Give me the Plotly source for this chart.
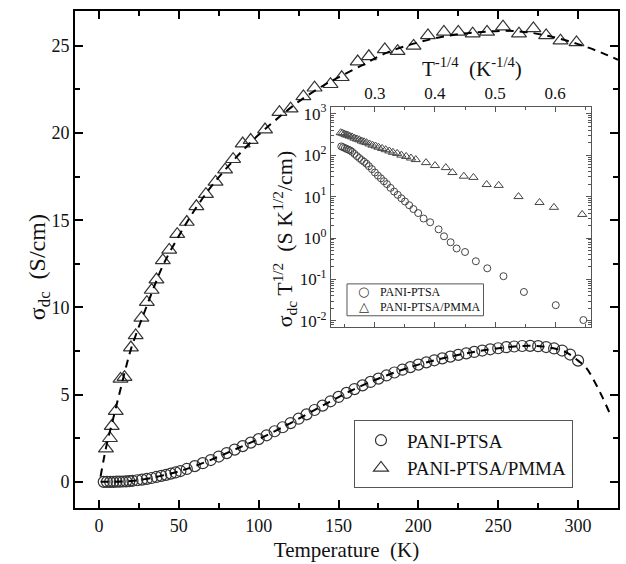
import plotly.graph_objects as go

# ---------------- main panel data ----------------
T_ptsa = [3, 5, 7, 9, 11, 13, 15, 17, 19, 21, 24, 27, 30, 33, 36, 39, 42, 45, 48, 51,
          55, 60, 65, 70, 75, 80, 85, 90, 95, 100, 105, 110, 115, 120, 125, 130, 135,
          140, 145, 150, 155, 160, 165, 170, 175, 180, 185, 190, 195, 200, 205, 210,
          215, 220, 225, 230, 235, 240, 245, 250, 255, 260, 265, 270, 275, 280, 285,
          290, 295, 300]
S_ptsa = [0.0, 0.0, 0.0, 0.0, 0.01, 0.01, 0.02, 0.03, 0.04, 0.06, 0.09, 0.13, 0.17, 0.22,
          0.28, 0.34, 0.40, 0.47, 0.54, 0.62, 0.74, 0.90, 1.07, 1.25, 1.45, 1.65, 1.85,
          2.05, 2.25, 2.45, 2.67, 2.90, 3.13, 3.37, 3.62, 3.87, 4.12, 4.37, 4.62, 4.87,
          5.10, 5.32, 5.53, 5.73, 5.92, 6.10, 6.27, 6.43, 6.58, 6.72, 6.85, 6.97, 7.08,
          7.18, 7.28, 7.37, 7.45, 7.53, 7.60, 7.66, 7.72, 7.76, 7.79, 7.80, 7.78, 7.73,
          7.65, 7.53, 7.30, 6.95]

T_pmma = [4.4, 6.9, 8, 10.5, 13.5, 16, 20, 23, 26.6, 30, 33, 36, 40, 44, 49, 55, 61, 67,
          73, 79, 84, 90, 95, 104, 113, 120, 128, 135, 145, 152, 162, 169, 179, 187, 197,
          206, 216, 225, 234, 243, 253, 263, 272, 280, 289, 299]
S_pmma = [1.9, 2.5, 3.2, 4.05, 5.9, 6.0, 7.7, 8.4, 9.4, 10.3, 11.0, 11.6, 12.7, 13.3, 14.2,
          14.9, 15.8, 16.5, 17.2, 17.9, 18.5, 19.4, 19.6, 20.2, 21.2, 21.4, 22.1, 22.6,
          22.8, 23.2, 24.1, 24.4, 24.8, 24.7, 25.0, 25.6, 25.8, 25.8, 25.7, 25.8, 26.1,
          25.7, 26.0, 25.6, 25.3, 25.2]

# dashed fit curves (read along the drawn dashes)
T_fit_ptsa = [1, 10, 20, 30, 40, 50, 60, 75, 90, 100, 120, 140, 160, 180, 200, 220, 240,
              260, 270, 280, 290, 295, 300, 305, 310, 315, 320]
S_fit_ptsa = [0.0, 0.01, 0.05, 0.17, 0.37, 0.60, 0.90, 1.45, 2.05, 2.45, 3.37, 4.37, 5.32,
              6.10, 6.72, 7.18, 7.53, 7.76, 7.80, 7.73, 7.53, 7.30, 6.95, 6.55, 5.80, 4.90,
              3.90]
T_fit_pmma = [1, 3, 5, 8, 11, 14, 17, 20, 25, 30, 35, 40, 50, 60, 70, 80, 90, 100, 110,
              125, 140, 150, 165, 180, 200, 220, 240, 260, 280, 300, 315, 325]
S_fit_pmma = [0.3, 1.3, 2.2, 3.3, 4.4, 5.5, 6.6, 7.6, 8.9, 10.1, 11.3, 12.4, 14.1, 15.6,
              16.9, 18.0, 19.0, 19.9, 20.7, 21.8, 22.7, 23.2, 23.9, 24.6, 25.2, 25.6, 25.8,
              25.85, 25.6, 25.1, 24.6, 24.2]

# ---------------- inset data ----------------
t_ptsa = [0.244, 0.247, 0.250, 0.253, 0.256, 0.259, 0.262, 0.266, 0.270, 0.274, 0.278,
          0.282, 0.286, 0.290, 0.295, 0.300, 0.305, 0.310, 0.315, 0.320, 0.326, 0.332,
          0.338, 0.344, 0.350, 0.357, 0.364, 0.372, 0.381, 0.392, 0.406, 0.415, 0.426,
          0.436, 0.450, 0.468, 0.487, 0.514, 0.548, 0.601, 0.647]
y_ptsa = [162, 155, 148, 141, 135, 129, 120, 107, 95, 85, 76, 69, 62, 54, 46, 38, 32, 27.5,
          23.4, 20, 16.2, 13.2, 11, 9.1, 7.6, 6.2, 5.0, 4.0, 2.95, 2.4, 1.62, 1.10, 0.79,
          0.56, 0.46, 0.275, 0.186, 0.12, 0.050, 0.024, 0.0105]
t_pmma = [0.243, 0.246, 0.249, 0.252, 0.255, 0.258, 0.262, 0.266, 0.270, 0.274, 0.278,
          0.282, 0.286, 0.291, 0.296, 0.301, 0.306, 0.312, 0.318, 0.324, 0.330, 0.337,
          0.344, 0.352, 0.360, 0.368, 0.385, 0.400, 0.418, 0.429, 0.448, 0.464, 0.486,
          0.506, 0.539, 0.574, 0.598, 0.645]
y_pmma = [347, 339, 324, 309, 302, 288, 275, 257, 245, 234, 219, 209, 200, 186, 174, 166,
          155, 145, 135, 126, 117, 110, 100, 93, 85, 78, 66, 56, 50, 38, 31, 29, 19.5,
          18.6, 10, 7.2, 5.5, 3.7]

x_ticks = [0, 50, 100, 150, 200, 250, 300]
y_ticks = [0, 5, 10, 15, 20, 25]
inset_x_ticks = [0.3, 0.4, 0.5, 0.6]
inset_y_ticks = [0.01, 0.1, 1, 10, 100, 1000]
inset_y_text = ["10<sup>-2</sup>", "10<sup>-1</sup>", "10<sup>0</sup>", "10<sup>1</sup>",
                "10<sup>2</sup>", "10<sup>3</sup>"]
series_names = ["PANI-PTSA", "PANI-PTSA/PMMA"]

SERIF = "Liberation Serif"
MK = "#333333"

# plot area in pixels (for placing paper-referenced texts)
L, R, TOP, BOT = 75, 620, 11, 510
def px(x):
    return (x - L) / (R - L)
def py(y):
    return (BOT - y) / (BOT - TOP)

fig = go.Figure()

# main markers
fig.add_trace(go.Scatter(x=T_ptsa, y=S_ptsa, mode="markers", name=series_names[0],
                         marker=dict(symbol="circle-open", size=11, color=MK,
                                     line=dict(width=1.2, color=MK))))
fig.add_trace(go.Scatter(x=T_pmma, y=S_pmma, mode="markers", name=series_names[1],
                         marker=dict(symbol="triangle-up-open", size=13, color=MK,
                                     line=dict(width=1.2, color=MK))))
# fits
fig.add_trace(go.Scatter(x=T_fit_ptsa, y=S_fit_ptsa, mode="lines", showlegend=False,
                         line=dict(color="black", width=2, dash="8px,6px", shape="spline")))
fig.add_trace(go.Scatter(x=T_fit_pmma, y=S_fit_pmma, mode="lines", showlegend=False,
                         line=dict(color="black", width=2, dash="8px,6px", shape="spline")))

# inset markers
fig.add_trace(go.Scatter(x=t_ptsa, y=y_ptsa, mode="markers", name=series_names[0],
                         xaxis="x2", yaxis="y2", showlegend=False,
                         marker=dict(symbol="circle-open", size=7, color="#444",
                                     line=dict(width=1, color="#444"))))
fig.add_trace(go.Scatter(x=t_pmma, y=y_pmma, mode="markers", name=series_names[1],
                         xaxis="x2", yaxis="y2", showlegend=False,
                         marker=dict(symbol="triangle-up-open", size=8, color="#444",
                                     line=dict(width=1, color="#444"))))

axis_common = dict(showgrid=False, zeroline=False, showline=True, linecolor="black",
                   linewidth=2, mirror="allticks", ticks="inside", tickwidth=1.5,
                   ticklen=8, tickcolor="black",
                   tickfont=dict(family=SERIF, size=18, color="#111"))

ann_font_small = dict(family=SERIF, size=12, color="#111")

fig.update_layout(
    width=626, height=564,
    margin=dict(l=L, r=626 - R, t=TOP, b=564 - BOT),
    plot_bgcolor="white", paper_bgcolor="white",
    font=dict(family=SERIF),
    xaxis=dict(range=[-15, 325], tickvals=x_ticks,
               minor=dict(ticks="inside", ticklen=5, dtick=25, tick0=0, tickcolor="black"),
               title=dict(text="Temperature  (K)", font=dict(family=SERIF, size=21, color="#111"),
                          standoff=8),
               **axis_common),
    yaxis=dict(range=[-1.5, 27], tickvals=y_ticks,
               minor=dict(ticks="inside", ticklen=5, dtick=2.5, tick0=0, tickcolor="black"),
               **axis_common),
    xaxis2=dict(domain=[px(332), px(592.5)], anchor="y2", side="top", range=[0.227, 0.659],
                tickvals=inset_x_ticks, ticktext=["0.3", "0.4", "0.5", "0.6"],
                showgrid=False, zeroline=False, showline=True, linecolor="#555",
                linewidth=1.2, mirror="allticks", ticks="inside", ticklen=5, tickcolor="#555",
                minor=dict(ticks="inside", ticklen=3, dtick=0.05, tick0=0.2, tickcolor="#555"),
                tickfont=dict(family=SERIF, size=17, color="#111")),
    yaxis2=dict(domain=[py(328), py(107)], anchor="x2", type="log", range=[-2.14, 3.17],
                tickvals=inset_y_ticks, ticktext=inset_y_text,
                showgrid=False, zeroline=False, showline=True, linecolor="#555",
                linewidth=1.2, mirror="allticks", ticks="inside", ticklen=5, tickcolor="#555",
                minor=dict(ticks="inside", ticklen=3, dtick="D1", tickcolor="#555"),
                tickfont=dict(family=SERIF, size=17, color="#111")),
    legend=dict(x=px(355), y=py(422), xanchor="left", yanchor="top",
                bordercolor="#555", borderwidth=1, bgcolor="white", itemwidth=42,
                font=dict(family=SERIF, size=19, color="#111"), tracegroupgap=0),
    shapes=[
        dict(type="rect", xref="paper", yref="paper", x0=px(348), x1=px(485),
             y0=py(317), y1=py(285), line=dict(color="#555", width=1), fillcolor="white",
             layer="above"),
    ],
    annotations=[
        # main y title
        dict(text="σ<sub>dc</sub>  (S/cm)", xref="paper", yref="paper",
             x=px(22), y=py(268), textangle=-90, showarrow=False,
             font=dict(family=SERIF, size=24, color="#111")),
        # inset titles
        dict(text="T<sup>-1/4</sup>  (K<sup>-1/4</sup>)", xref="paper", yref="paper",
             x=px(421), y=py(68), xanchor="left", yanchor="middle", showarrow=False,
             font=dict(family=SERIF, size=21, color="#111")),
        dict(text="σ<sub>dc</sub> T<sup>1/2</sup>  (S K<sup>1/2</sup>/cm)", xref="paper",
             yref="paper", x=px(285), y=py(240), textangle=-90,
             showarrow=False, font=dict(family=SERIF, size=22, color="#111")),
        # inset legend
        dict(text="○", xref="paper", yref="paper", x=px(365), y=py(293), showarrow=False,
             font=dict(family="DejaVu Sans", size=13, color="#333")),
        dict(text="△", xref="paper", yref="paper", x=px(365), y=py(308), showarrow=False,
             font=dict(family="DejaVu Sans", size=13, color="#333")),
        dict(text=series_names[0], xref="paper", yref="paper", x=px(379), y=py(293),
             xanchor="left", showarrow=False, font=ann_font_small),
        dict(text=series_names[1], xref="paper", yref="paper", x=px(379), y=py(308),
             xanchor="left", showarrow=False, font=ann_font_small),
    ],
)

fig.write_html("out.html")
